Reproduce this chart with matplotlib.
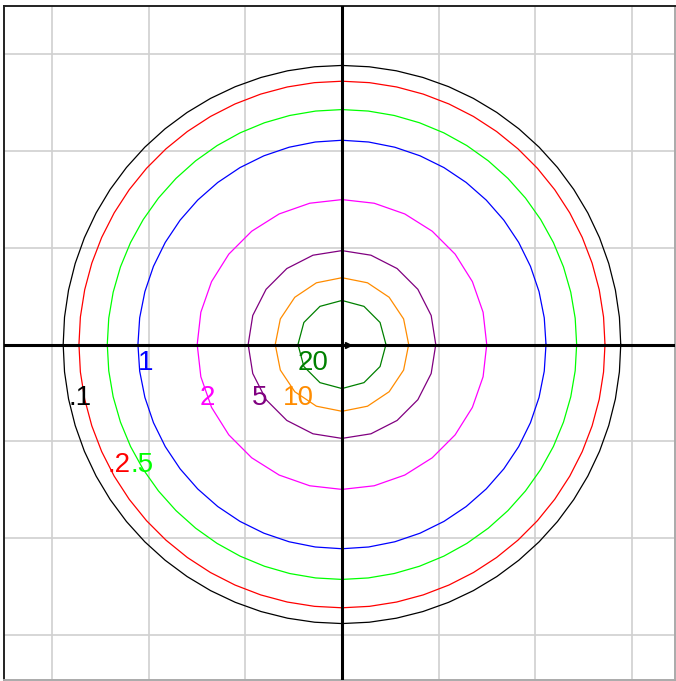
import numpy as np
import matplotlib
matplotlib.use("Agg")
import matplotlib.pyplot as plt

# contour levels and the radius (in grid units) where each one sits
levels = [0.1, 0.2, 0.5, 1, 2, 5, 10, 20]
radii = [2.883, 2.72, 2.427, 2.11, 1.497, 0.97, 0.69, 0.455]
sides = [64, 60, 56, 48, 28, 20, 16, 12]
colors = ["black", "#ff0000", "#00ff00", "#0000ff", "#ff00ff", "#800080", "#ff8c00", "#008000"]
label_text = [".1", ".2", ".5", "1", "2", "5", "10", "20"]
label_pos = [(-2.71, -0.55), (-2.31, -1.25), (-2.07, -1.25), (-2.03, -0.19),
             (-1.39, -0.55), (-0.85, -0.55), (-0.45, -0.55), (-0.30, -0.19)]

fig = plt.figure(figsize=(6.76, 6.81), dpi=100)
ax = fig.add_axes([4 / 676, 1 / 681, 671 / 676, 674 / 681])

for r, n, c in zip(radii, sides, colors):
    t = np.linspace(0, 2 * np.pi, n + 1)
    ax.plot(r * np.cos(t), r * np.sin(t), color=c, lw=0.9, zorder=3)

for txt, (x, y), c in zip(label_text, label_pos, colors):
    ax.text(x, y, txt, color=c, fontsize=20, family="Liberation Sans",
            ha="center", va="center", zorder=5)

ax.axhline(0, color="black", lw=2.2, zorder=4)
ax.axvline(0, color="black", lw=2.2, zorder=4)
ax.plot([0.06], [0], marker=">", color="black", ms=4, zorder=6)

ax.set_xlim(-3.495, 3.444)
ax.set_ylim(-3.466, 3.497)
ax.set_xticks(np.arange(-3, 4, 1))
ax.set_yticks(np.arange(-3, 4, 1))
ax.tick_params(length=0, labelbottom=False, labelleft=False)
ax.grid(True, color="#d0d0d0", lw=1.2, zorder=0)
ax.set_axisbelow(True)
for s in ["top", "left"]:
    ax.spines[s].set_color("#222222")
    ax.spines[s].set_linewidth(1.4)
for s in ["right", "bottom"]:
    ax.spines[s].set_color("#aaaaaa")
    ax.spines[s].set_linewidth(1.4)

fig.savefig("out.png", dpi=100)
